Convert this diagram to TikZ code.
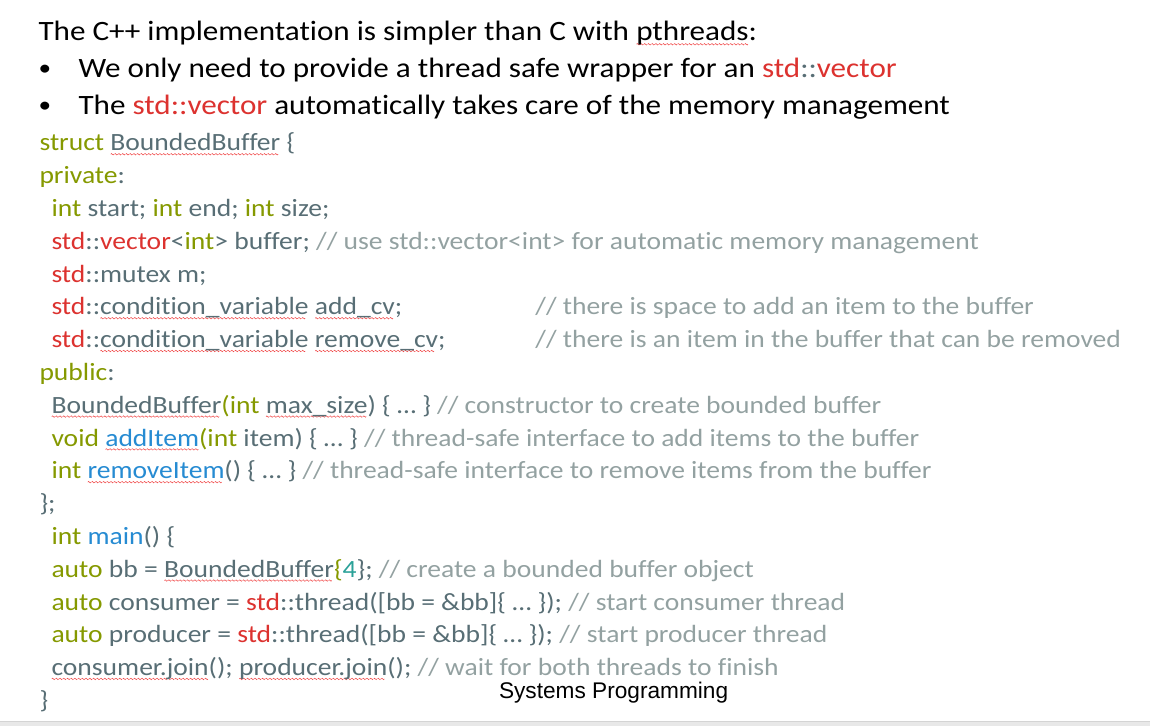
\documentclass[tikz,border=0pt]{standalone}
\usepackage{fontspec}
\setmainfont{Carlito}[FakeStretch=1.112, Ligatures=NoCommon]
\newfontfamily\arialfont{Liberation Sans}
\usetikzlibrary{positioning}

\definecolor{kwgreen}{HTML}{859900}
\definecolor{basegrey}{HTML}{586E75}
\definecolor{stdred}{HTML}{DC322F}
\definecolor{fnblue}{HTML}{268BD2}
\definecolor{numcyan}{HTML}{2AA198}
\definecolor{cmtgrey}{HTML}{93A1A1}
\definecolor{squigred}{HTML}{F04848}
\definecolor{stripgrey}{HTML}{E8E8E8}
\definecolor{stripline}{HTML}{D4D4D4}

\newsavebox\wavebox
\newsavebox\sqword
\newcommand\kw[1]{\textcolor{kwgreen}{#1}}
\newcommand\rd[1]{\textcolor{stdred}{#1}}
\newcommand\fn[1]{\textcolor{fnblue}{#1}}
\newcommand\nm[1]{\textcolor{numcyan}{#1}}
\newcommand\cm[1]{\textcolor{cmtgrey}{#1}}
% one period of the spell-check wave
\newcommand\makewave{\sbox\wavebox{\pgfpicture
  \pgfsetcolor{squigred}\pgfsetlinewidth{0.4pt}
  \pgfpathmoveto{\pgfpoint{0pt}{0pt}}
  \pgfpathsine{\pgfpoint{0.6pt}{0.55pt}}
  \pgfpathcosine{\pgfpoint{0.6pt}{-0.55pt}}
  \pgfpathsine{\pgfpoint{0.6pt}{-0.55pt}}
  \pgfpathcosine{\pgfpoint{0.6pt}{0.55pt}}
  \pgfusepath{stroke}
  \endpgfpicture}}
% red squiggle under a word
\newcommand\sq[1]{\sbox\sqword{#1}\rlap{\raisebox{-3.2pt}[0pt][0pt]{\hbox to \wd\sqword{\leaders\copy\wavebox\hfill}}}\usebox\sqword}
\newcommand\headsize{\fontsize{21}{25}\selectfont}
\newcommand\codesize{\fontsize{18.6}{22}\selectfont}

\tikzset{
  headline/.style={anchor=base west, inner sep=0pt, font=\headsize, text=black},
  bulletdot/.style={anchor=base west, inner sep=0pt, font=\fontsize{17}{20}\selectfont},
  codeline/.style={anchor=base west, inner sep=0pt, font=\codesize, text=basegrey},
}

\begin{document}
\begin{tikzpicture}[x=0.75pt, y=-0.75pt]
  \makewave
  \useasboundingbox (0,0) rectangle (1150,725);
  \fill[stripgrey] (0,720) rectangle (1150,725);
  \draw[stripline] (0,720) -- (1150,720);

  % heading and bullets
  \node[headline] (intro) at (38,40) {The C++ implementation is simpler than C with \sq{pthreads}:};
  \node[bulletdot] (dot1) at (38,75) {•};
  \node[headline] (bul1) at (78,77) {We only need to provide a thread safe wrapper for an \rd{std}\textcolor{basegrey}{::}\rd{vector}};
  \node[bulletdot] (dot2) at (38,112) {•};
  \node[headline] (bul2) at (78,114) {The \rd{std::vector} automatically takes care of the memory management};

  % the struct
  \node[codeline] (st) at (39,150) {\kw{struct} \sq{BoundedBuffer} \{};
  \node[codeline] (priv) at (39,182.8) {\kw{private}:};
  \node[codeline] (ints) at (51,215.6) {\kw{int} start; \kw{int} end; \kw{int} size;};
  \node[codeline] (vec) at (51,248.4) {\rd{std}::\rd{vector}<\kw{int}> buffer; \cm{// use std::vector<int> for automatic memory management}};
  \node[codeline] (mtx) at (51,281.2) {\rd{std}::mutex m;};
  \node[codeline] (addcv) at (51,314) {\rd{std}::\sq{condition\_variable} \sq{add\_cv};};
  \node[codeline] (addcm) at (535,314) {\cm{// there is space to add an item to the buffer}};
  \node[codeline] (remcv) at (51,346.8) {\rd{std}::\sq{condition\_variable} \sq{remove\_cv};};
  \node[codeline] (remcm) at (535,346.8) {\cm{// there is an item in the buffer that can be removed}};
  \node[codeline] (pub) at (39,379.6) {\kw{public}:};
  \node[codeline] (ctor) at (51,412.4) {\sq{BoundedBuffer}\kw{(int} \sq{max\_size}) \{ … \} \cm{// constructor to create bounded buffer}};
  \node[codeline] (add) at (51,445.2) {\kw{void} \fn{\sq{addItem}}\kw{(int} item) \{ … \} \cm{// thread-safe interface to add items to the buffer}};
  \node[codeline] (rem) at (51,478) {\kw{int} \fn{\sq{removeItem}}() \{ … \} \cm{// thread-safe interface to remove items from the buffer}};
  \node[codeline] (stend) at (39,510.8) {\};};

  % main
  \node[codeline] (mn) at (51,543.6) {\kw{int} \fn{main}() \{};
  \node[codeline] (bb) at (51,576.4) {\kw{auto} bb = \sq{BoundedBuffer}\kw{\{}\nm{4}\}; \cm{// create a bounded buffer object}};
  \node[codeline] (cons) at (51,609.2) {\kw{auto} consumer = \rd{std}::thread([bb = \&bb]\{ … \}); \cm{// start consumer thread}};
  \node[codeline] (prod) at (51,642) {\kw{auto} producer = \rd{std}::thread([bb = \&bb]\{ … \}); \cm{// start producer thread}};
  \node[codeline] (join) at (51,674.8) {\sq{consumer.join}(); \sq{producer.join}(); \cm{// wait for both threads to finish}};
  \node[codeline] (mnend) at (39,707.6) {\}};

  \node[anchor=base, inner sep=0pt, font=\arialfont\fontsize{17}{20}\selectfont] (footer) at (613.5,698) {Systems Programming};
\end{tikzpicture}
\end{document}
